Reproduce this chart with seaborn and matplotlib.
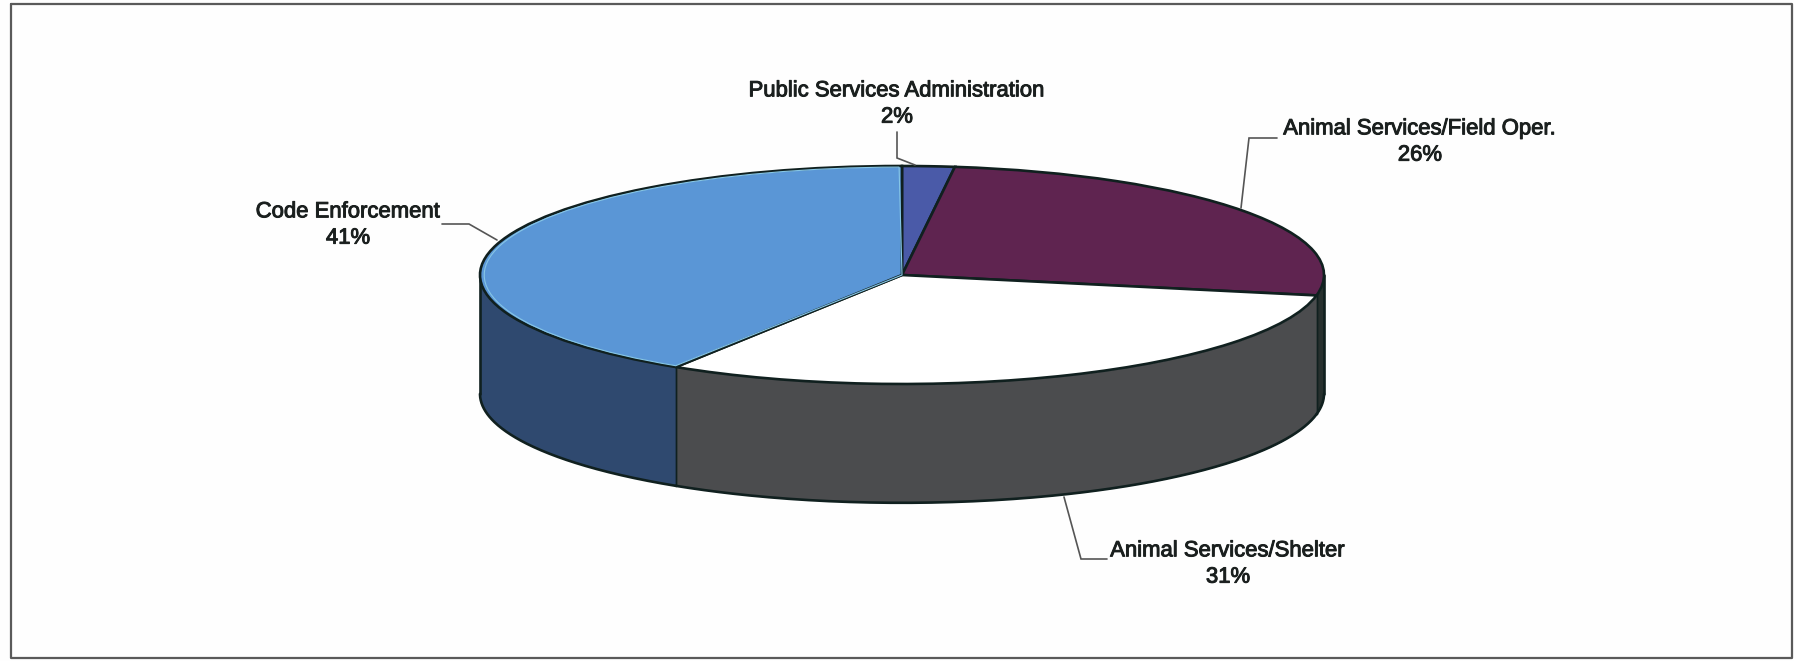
import numpy as np
import matplotlib
matplotlib.use("Agg")
import matplotlib.pyplot as plt
import matplotlib.patheffects as pe
from matplotlib.patches import Wedge
import seaborn as sns

# Budget shares by division, clockwise from twelve o'clock
divisions = ["Public Services Administration", "Animal Services/Field Oper.",
             "Animal Services/Shelter", "Code Enforcement"]
shares = [2, 26, 31, 41]
top_colors = ["#4a5aa8", "#5f2450", "#ffffff", "#5a96d6"]
wall_colors = ["#2a3a6a", "#27302e", "#4b4c4e", "#2f496f"]

sns.set_theme(style="white")
plt.rcParams["font.family"] = ["Liberation Sans", "DejaVu Sans"]

W, H = 1794, 661
CX, CY, RX, RY, DEPTH = 902, 275, 422, 109, 1.09
INK = "#10201f"

fig = plt.figure(figsize=(W / 100, H / 100), dpi=100, facecolor="#fefefe")

# Unit-circle axes stretched into the tilted ellipse of the disc
ax = fig.add_axes([0, 0, 1, 1])
ax.patch.set_alpha(0)
wedges, _ = ax.pie(shares, colors=top_colors, startangle=90, counterclock=False,
                   wedgeprops=dict(edgecolor=INK, linewidth=1.9, zorder=3))
ax.set_aspect("auto")
ax.set_xlim(-CX / RX, (W - CX) / RX)
ax.set_ylim((CY - H) / RY, CY / RY)

# Side wall: the visible part of the rim runs from 90 to 270 degrees clockwise
edges = np.concatenate([[0], np.cumsum(shares)]) * 3.6
for start, stop, color in zip(edges[:-1], edges[1:], wall_colors):
    lo, hi = max(start, 90), min(stop, 270)
    if lo >= hi:
        continue
    theta = np.radians(np.linspace(lo, hi, 200))
    x, y = np.sin(theta), np.cos(theta)
    ax.fill_between(x, y, y - DEPTH, color=color, linewidth=0, zorder=1)
    ax.plot(x, y - DEPTH, color=INK, lw=1.9, zorder=2, solid_capstyle="round")
    for end in (lo, hi):
        t = np.radians(end)
        outer = end in (90, 270)
        ax.plot([np.sin(t)] * 2, [np.cos(t), np.cos(t) - DEPTH],
                color=INK, lw=1.9 if outer else 1.0, zorder=2,
                solid_capstyle="round")

# Pale inner rim along the Code Enforcement slice
code = wedges[3]
ax.add_patch(Wedge((0, 0), 0.99, code.theta1 + 0.4, code.theta2 - 0.4,
                   fill=False, edgecolor="#86c6e6", linewidth=0.8, zorder=4))

# Overlay in pixel units for the callouts and the border
ov = fig.add_axes([0, 0, 1, 1])
ov.set_xlim(0, W)
ov.set_ylim(H, 0)
ov.axis("off")

label_pos = [(897, 104), (1420, 142), (1228, 564), (348, 225)]
leaders = [
    [(897, 132), (897, 158), (915, 165)],
    [(1277, 138), (1249, 138), (1241, 208)],
    [(1107, 559), (1081, 559), (1064, 497)],
    [(442, 224), (469, 224), (497, 240)],
]
halo = [pe.withStroke(linewidth=0.7, foreground="#1a1f1e")]
for name, share, pos, path in zip(divisions, shares, label_pos, leaders):
    ov.text(*pos, f"{name}\n{share}%", ha="center", va="center", fontsize=15.9,
            color="#1a1f1e", linespacing=1.33, path_effects=halo)
    ov.plot(*zip(*path), color="#555555", lw=1.2, solid_joinstyle="miter")

# Scanned page border
bx = [11, 1792, 1792, 11, 11]
by = [4, 4, 658, 658, 4]
ov.plot(bx, by, color="#5a5a5a", lw=1.6)

fig.savefig("out.png", dpi=100, facecolor=fig.get_facecolor())
